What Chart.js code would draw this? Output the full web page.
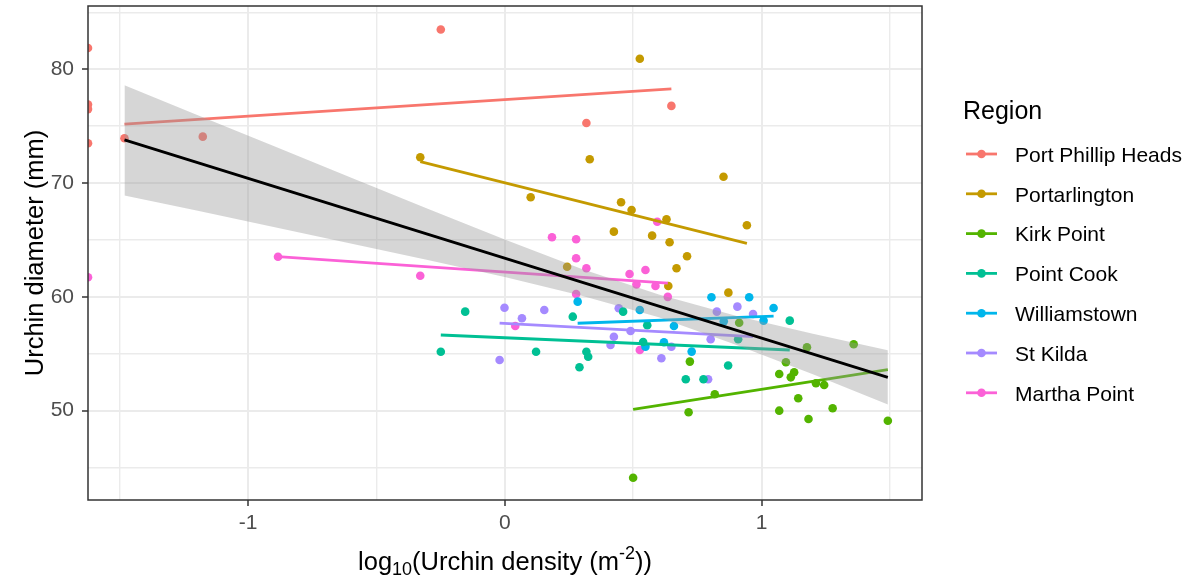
<!DOCTYPE html>
<html>
<head>
<meta charset="utf-8">
<title>Urchin diameter vs density</title>
<script src="https://cdn.jsdelivr.net/npm/chart.js@4.4.1/dist/chart.umd.min.js"></script>
<style>
  html, body { margin: 0; padding: 0; background: #fff; }
  #wrap { width: 1201px; height: 579px; }
</style>
</head>
<body>
<div id="wrap"><canvas id="urchinChart" width="1201" height="579"></canvas></div>
<script>
// zero densities give log10 = -Inf; those are pinned to the left panel edge
const NEG_INF = -Infinity;

const regions = ['Port Phillip Heads', 'Portarlington', 'Kirk Point', 'Point Cook', 'Williamstown', 'St Kilda', 'Martha Point'];
const regionColors = ['#F8766D', '#C49A00', '#53B400', '#00C094', '#00B6EB', '#A58AFF', '#FB61D7'];

// log10 density (per m2) and test diameter (mm) for each site
const pphDensity = [NEG_INF, NEG_INF, NEG_INF, NEG_INF, -1.481, -1.176, -0.249, 0.318, 0.649];
const pphDiameter = [81.87, 76.9, 76.5, 73.5, 73.94, 74.08, 83.5, 75.28, 76.78];

const portDensity = [-0.329, 0.101, 0.243, 0.331, 0.425, 0.453, 0.494, 0.526, 0.574, 0.630, 0.637, 0.642, 0.669, 0.710, 0.852, 0.871, 0.943];
const portDiameter = [72.27, 68.75, 62.65, 72.09, 65.73, 68.31, 67.64, 80.93, 65.38, 66.82, 60.96, 64.8, 62.51, 63.57, 70.56, 60.37, 66.29];

const kirkDensity = [0.500, 0.716, 0.721, 0.818, 0.913, 1.069, 1.069, 1.095, 1.114, 1.127, 1.143, 1.177, 1.183, 1.212, 1.244, 1.277, 1.359, 1.492];
const kirkDiameter = [44.11, 49.86, 54.31, 51.44, 57.73, 53.22, 50.0, 54.25, 52.93, 53.37, 51.09, 55.57, 49.27, 52.41, 52.26, 50.21, 55.83, 49.12];

const cookDensity = [-0.249, -0.154, 0.122, 0.265, 0.291, 0.318, 0.325, 0.461, 0.539, 0.555, 0.705, 0.774, 0.870, 0.909, 1.110];
const cookDiameter = [55.18, 58.7, 55.18, 58.26, 53.81, 55.18, 54.74, 58.7, 56.03, 57.5, 52.76, 52.76, 53.97, 56.27, 57.91];

const willDensity = [0.284, 0.526, 0.548, 0.620, 0.659, 0.728, 0.805, 0.853, 0.952, 1.008, 1.047];
const willDiameter = [59.58, 58.85, 55.62, 56.01, 57.44, 55.19, 59.96, 57.85, 59.96, 57.91, 59.02];

const kildaDensity = [-0.020, -0.001, 0.067, 0.154, 0.412, 0.425, 0.444, 0.490, 0.610, 0.649, 0.792, 0.802, 0.826, 0.906, 0.967];
const kildaDiameter = [54.45, 59.05, 58.12, 58.85, 55.77, 56.5, 59.0, 57.0, 54.6, 55.62, 52.76, 56.27, 58.7, 59.14, 58.5];

const marthaDensity = [NEG_INF, -0.883, -0.329, 0.041, 0.184, 0.278, 0.278, 0.278, 0.318, 0.486, 0.513, 0.526, 0.548, 0.587, 0.594, 0.635];
const marthaDiameter = [61.72, 63.53, 61.86, 57.44, 65.24, 65.06, 63.39, 60.25, 62.51, 62.01, 61.1, 55.33, 62.36, 60.96, 66.6, 60.0];

const siteDensity = [pphDensity, portDensity, kirkDensity, cookDensity, willDensity, kildaDensity, marthaDensity];
const siteDiameter = [pphDiameter, portDiameter, kirkDiameter, cookDiameter, willDiameter, kildaDiameter, marthaDiameter];

// per-site linear fits: end points of each fitted segment
const fitFromX = [-1.481, -0.329, 0.500, -0.249, 0.284, -0.020, -0.883];
const fitToX = [0.649, 0.943, 1.492, 1.110, 1.047, 0.967, 0.635];
const fitFromY = [75.18, 71.88, 50.12, 56.65, 57.68, 57.7, 63.53];
const fitToY = [78.27, 64.71, 53.6, 55.33, 58.3, 56.5, 61.2];

// pooled fit and its confidence band
const pooledX = [-1.481, 1.492];
const pooledY = [73.79, 52.93];
const bandX = [-1.481, -1.2, -0.9, -0.6, -0.3, 0, 0.3, 0.6, 0.9, 1.2, 1.492];
const bandUpper = [78.6, 76.0, 73.25, 70.5, 67.75, 65.05, 62.45, 60.2, 58.35, 56.75, 55.3];
const bandLower = [68.9, 67.6, 66.15, 64.7, 63.25, 61.75, 60.1, 58.2, 55.8, 53.2, 50.55];

const xTicks = [-1.5, -1, -0.5, 0, 0.5, 1, 1.5];
const yTicks = [45, 50, 55, 60, 65, 70, 75, 80, 85];
const xLimits = [-1.623, 1.625];
const yLimits = [42.15, 85.56];

const FONT = '"Liberation Sans", Arial, sans-serif';

function pairUp(xs, ys) {
    return xs.map((x, i) => ({ x: x === NEG_INF ? xLimits[0] : x, y: ys[i] }));
}

const datasets = [];

// pooled line on top, then its band
datasets.push({
    data: pairUp(pooledX, pooledY),
    showLine: true, borderColor: '#000000', borderWidth: 2.8,
    pointRadius: 0, fill: false, order: 0, clip: 0
});
datasets.push({
    data: pairUp(bandX, bandUpper),
    showLine: true, borderWidth: 0, borderColor: 'rgba(0,0,0,0)',
    backgroundColor: 'rgba(153,153,153,0.4)', fill: '+1',
    pointRadius: 0, order: 1, clip: 0
});
datasets.push({
    data: pairUp(bandX, bandLower),
    showLine: true, borderWidth: 0, borderColor: 'rgba(0,0,0,0)',
    pointRadius: 0, fill: false, order: 1, clip: 0
});

regions.forEach((name, i) => {
    datasets.push({
        label: name,
        data: pairUp([fitFromX[i], fitToX[i]], [fitFromY[i], fitToY[i]]),
        showLine: true, borderColor: regionColors[i], borderWidth: 2.8,
        pointRadius: 0, fill: false, order: 2, clip: 0
    });
});
regions.forEach((name, i) => {
    datasets.push({
        label: name,
        data: pairUp(siteDensity[i], siteDiameter[i]),
        showLine: false, backgroundColor: regionColors[i], borderWidth: 0,
        pointRadius: 4.3, order: 3, clip: 0
    });
});

// panel border, axis titles and the Region key
const decorations = {
    id: 'decorations',
    afterDraw(chart) {
        const ctx = chart.ctx;
        const a = chart.chartArea;
        ctx.save();

        ctx.strokeStyle = '#333333';
        ctx.lineWidth = 1.5;
        ctx.strokeRect(a.left, a.top, a.right - a.left, a.bottom - a.top);

        // y title
        ctx.fillStyle = '#000000';
        ctx.font = '25.5px ' + FONT;
        ctx.save();
        ctx.translate(43, (a.top + a.bottom) / 2);
        ctx.rotate(-Math.PI / 2);
        ctx.textAlign = 'center';
        ctx.textBaseline = 'alphabetic';
        ctx.fillText('Urchin diameter (mm)', 0, 0);
        ctx.restore();

        // x title with sub- and superscript
        const big = '25.5px ' + FONT;
        const small = '18px ' + FONT;
        const parts = [
            { t: 'log', f: big, dy: 0 },
            { t: '10', f: small, dy: 5 },
            { t: '(Urchin density (m', f: big, dy: 0 },
            { t: '-2', f: small, dy: -11 },
            { t: '))', f: big, dy: 0 }
        ];
        let total = 0;
        parts.forEach(p => { ctx.font = p.f; p.w = ctx.measureText(p.t).width; total += p.w; });
        let x = (a.left + a.right) / 2 - total / 2;
        const baseY = 570;
        ctx.textAlign = 'left';
        ctx.textBaseline = 'alphabetic';
        parts.forEach(p => { ctx.font = p.f; ctx.fillText(p.t, x, baseY + p.dy); x += p.w; });

        // key
        ctx.font = '25px ' + FONT;
        ctx.fillText('Region', 963, 119);
        ctx.font = '21px ' + FONT;
        regions.forEach((name, i) => {
            const cy = 154 + i * 39.8;
            ctx.strokeStyle = regionColors[i];
            ctx.lineWidth = 2.8;
            ctx.beginPath();
            ctx.moveTo(966, cy);
            ctx.lineTo(997, cy);
            ctx.stroke();
            ctx.fillStyle = regionColors[i];
            ctx.beginPath();
            ctx.arc(981.5, cy, 4.3, 0, Math.PI * 2);
            ctx.fill();
            ctx.fillStyle = '#000000';
            ctx.fillText(name, 1015, cy + 7.7);
        });
        ctx.restore();
    }
};

function gridOptions(isMajor) {
    return {
        color: '#EBEBEB',
        lineWidth: ctx => (ctx.tick && isMajor(ctx.tick.value)) ? 2 : 1.4,
        tickColor: ctx => (ctx.tick && isMajor(ctx.tick.value)) ? '#333333' : 'rgba(0,0,0,0)',
        tickLength: 6,
        tickWidth: 1.5,
        drawTicks: true
    };
}

const xMajor = v => Number.isInteger(v);
const yMajor = v => v % 10 === 0;

const ctx = document.getElementById('urchinChart').getContext('2d');
new Chart(ctx, {
    type: 'scatter',
    data: { datasets: datasets },
    options: {
        responsive: false,
        animation: false,
        events: [],
        layout: { padding: { left: 0, top: 6, right: 279, bottom: 0 } },
        plugins: {
            legend: { display: false },
            tooltip: { enabled: false },
            filler: { propagate: false }
        },
        scales: {
            x: {
                type: 'linear',
                min: xLimits[0],
                max: xLimits[1],
                afterBuildTicks: s => { s.ticks = xTicks.map(v => ({ value: v })); },
                afterFit: s => { s.height = 79; s.paddingLeft = 0; s.paddingRight = 0; },
                grid: gridOptions(xMajor),
                border: { display: false },
                ticks: {
                    autoSkip: false,
                    maxRotation: 0,
                    padding: 5,
                    color: '#4D4D4D',
                    font: { family: FONT, size: 21 },
                    callback: v => xMajor(v) ? String(v) : ''
                }
            },
            y: {
                type: 'linear',
                min: yLimits[0],
                max: yLimits[1],
                afterBuildTicks: s => { s.ticks = yTicks.map(v => ({ value: v })); },
                afterFit: s => { s.width = 88; s.paddingTop = 0; s.paddingBottom = 0; },
                grid: gridOptions(yMajor),
                border: { display: false },
                ticks: {
                    autoSkip: false,
                    padding: 8,
                    color: '#4D4D4D',
                    font: { family: FONT, size: 21 },
                    callback: v => yMajor(v) ? String(v) : ''
                }
            }
        }
    },
    plugins: [decorations]
});
</script>
</body>
</html>
